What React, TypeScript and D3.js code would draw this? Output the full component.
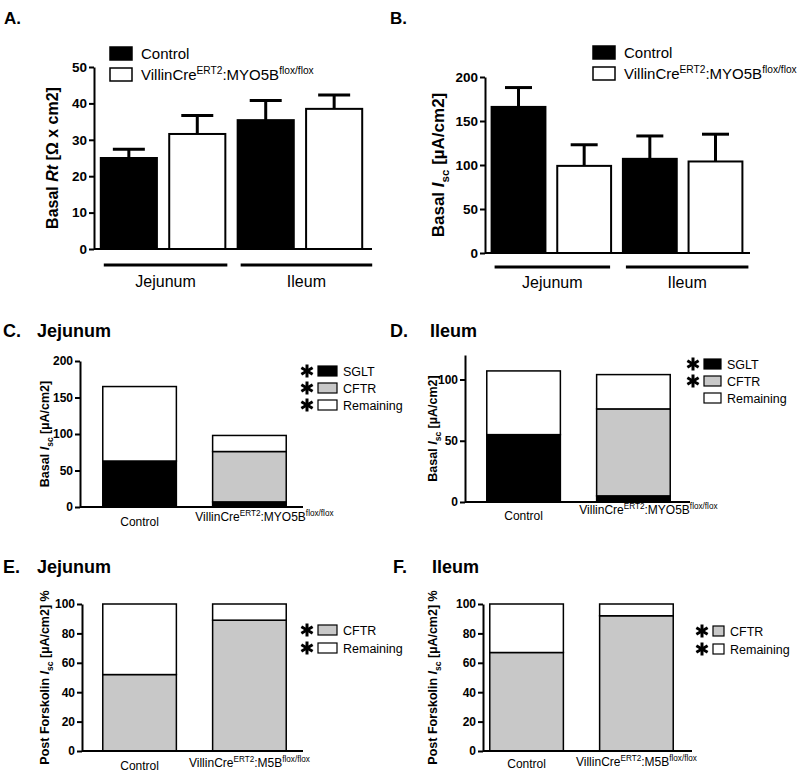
import { useEffect, useRef } from "react";
import * as d3 from "d3";

const FONT = "'Liberation Sans', Arial, Helvetica, sans-serif";

// A + B: basal values per region, mean and upper SEM
const regions = ["Jejunum", "Ileum"];
const genotypes = ["Control", "Villin"];
const rtControl = [25.0, 35.4];
const rtControlSem = [2.4, 5.4];
const rtVillin = [31.6, 38.5];
const rtVillinSem = [5.1, 3.8];
const iscControl = [166, 107];
const iscControlSem = [22, 26];
const iscVillin = [99, 104];
const iscVillinSem = [24, 31];

// C + D: basal Isc split into components (Control, Villin)
const basalKeys = ["SGLT", "CFTR", "Remaining"];
const jejSGLT = [63, 7];
const jejCFTR = [0, 69];
const jejRemaining = [102, 22];
const ileSGLT = [55, 5];
const ileCFTR = [0, 71];
const ileRemaining = [52, 28];

// E + F: post forskolin Isc, percent
const forskKeys = ["CFTR", "Remaining"];
const fJejCFTR = [52, 89];
const fJejRemaining = [48, 11];
const fIleCFTR = [67, 92];
const fIleRemaining = [33, 8];

const colors: Record<string, string> = {
	SGLT: "#000",
	CFTR: "#c8c8c8",
	Remaining: "#fff",
	Control: "#000",
	Villin: "#fff",
};

type Part = { t: string; sup?: boolean; sub?: boolean; it?: boolean };

const villinMyo: Part[] = [{ t: "VillinCre" }, { t: "ERT2", sup: true }, { t: ":MYO5B" }, { t: "flox/flox", sup: true }];
const villinM5b: Part[] = [{ t: "VillinCre" }, { t: "ERT2", sup: true }, { t: ":M5B" }, { t: "flox/flox", sup: true }];

function rich(text: any, parts: Part[], size: number) {
	let shift = 0;
	parts.forEach(p => {
		const target = p.sup ? -0.4 * size : p.sub ? 0.3 * size : 0;
		const ts = text.append("tspan").text(p.t).attr("dy", target - shift);
		if (p.sup || p.sub) ts.attr("font-size", size * 0.68);
		if (p.it) ts.attr("font-style", "italic");
		shift = target;
	});
}

function star(g: any, cx: number, cy: number) {
	[90, 30, -30].forEach(a => {
		const r = (a * Math.PI) / 180;
		const dx = Math.cos(r) * 6.5;
		const dy = Math.sin(r) * 6.5;
		g.append("line")
			.attr("x1", cx - dx).attr("y1", cy - dy)
			.attr("x2", cx + dx).attr("y2", cy + dy)
			.attr("stroke", "#000")
			.attr("stroke-width", 3);
	});
}

function yAxis(svg: any, y: any, x: number, ticks: number[], size: number) {
	const ax = svg.append("g")
		.attr("transform", `translate(${x},0)`)
		.call(d3.axisLeft(y).tickValues(ticks).tickSize(5).tickSizeOuter(0).tickPadding(2));
	ax.select(".domain").attr("stroke-width", 2);
	ax.selectAll(".tick line").attr("stroke-width", 2);
	ax.selectAll(".tick text")
		.attr("font-family", FONT)
		.attr("font-weight", "bold")
		.attr("font-size", size)
		.attr("fill", "#000");
}

function yLabel(svg: any, parts: Part[], x: number, cy: number, size: number) {
	const t = svg.append("text")
		.attr("transform", `translate(${x},${cy}) rotate(-90)`)
		.attr("text-anchor", "middle")
		.attr("font-family", FONT)
		.attr("font-weight", "bold")
		.attr("font-size", size);
	rich(t, parts, size);
}

function panelTitle(svg: any, letter: string, title: string, x: number, y: number, tx: number, size: number) {
	svg.append("text")
		.attr("x", x).attr("y", y)
		.attr("font-family", FONT).attr("font-weight", "bold").attr("font-size", size)
		.text(letter);
	if (title) {
		svg.append("text")
			.attr("x", tx).attr("y", y)
			.attr("font-family", FONT).attr("font-weight", "bold").attr("font-size", size)
			.text(title);
	}
}

type GroupedCfg = {
	control: number[]; controlSem: number[]; villin: number[]; villinSem: number[];
	yMax: number; ticks: number[]; yBottom: number; yTop: number;
	axisX: number; axisEnd: number; band: [number, number];
	label: Part[]; labelX: number; labelSize: number;
	lineY: number; textY: number; lineEnd: number[];
	legendX: number; legendY: number; capW: number;
};

function drawGrouped(svg: any, c: GroupedCfg) {
	const y = d3.scaleLinear().domain([0, c.yMax]).range([c.yBottom, c.yTop]);
	const bars = regions.flatMap((r, i) => [
		{ region: r, geno: "Control", v: c.control[i], sem: c.controlSem[i] },
		{ region: r, geno: "Villin", v: c.villin[i], sem: c.villinSem[i] },
	]);
	const x = d3.scaleBand<number>()
		.domain(d3.range(bars.length))
		.range(c.band)
		.paddingInner(0.18)
		.paddingOuter(0.07);

	// error bars (upper only)
	bars.forEach((d, i) => {
		const cx = x(i)! + x.bandwidth() / 2;
		svg.append("line")
			.attr("x1", cx).attr("x2", cx)
			.attr("y1", y(d.v)).attr("y2", y(d.v + d.sem))
			.attr("stroke", "#000").attr("stroke-width", 3);
		svg.append("line")
			.attr("x1", cx - c.capW / 2).attr("x2", cx + c.capW / 2)
			.attr("y1", y(d.v + d.sem)).attr("y2", y(d.v + d.sem))
			.attr("stroke", "#000").attr("stroke-width", 3);
	});

	svg.selectAll(null)
		.data(bars)
		.enter()
		.append("rect")
		.attr("x", (_: any, i: number) => x(i)!)
		.attr("width", x.bandwidth())
		.attr("y", (d: any) => y(d.v))
		.attr("height", (d: any) => y(0) - y(d.v))
		.attr("fill", (d: any) => colors[d.geno])
		.attr("stroke", "#000")
		.attr("stroke-width", 2);

	yAxis(svg, y, c.axisX, c.ticks, 13.5);
	svg.append("line")
		.attr("x1", c.axisX).attr("x2", c.axisEnd)
		.attr("y1", y(0)).attr("y2", y(0))
		.attr("stroke", "#000").attr("stroke-width", 2);

	yLabel(svg, c.label, c.labelX, (c.yTop + c.yBottom) / 2, c.labelSize);

	// region brackets
	regions.forEach((r, i) => {
		const x1 = x(i * 2)! + 3;
		const x2 = x(i * 2 + 1)! + x.bandwidth() + c.lineEnd[i];
		svg.append("line")
			.attr("x1", x1).attr("x2", x2)
			.attr("y1", c.lineY).attr("y2", c.lineY)
			.attr("stroke", "#000").attr("stroke-width", 3);
		svg.append("text")
			.attr("x", (x1 + x2) / 2).attr("y", c.textY)
			.attr("text-anchor", "middle")
			.attr("font-family", FONT).attr("font-size", 16)
			.text(r);
	});

	// legend
	genotypes.forEach((gname, i) => {
		const ly = c.legendY + i * 21;
		svg.append("rect")
			.attr("x", c.legendX).attr("y", ly)
			.attr("width", 22).attr("height", 13)
			.attr("fill", colors[gname]).attr("stroke", "#000").attr("stroke-width", 1.5);
		const t = svg.append("text")
			.attr("x", c.legendX + 31).attr("y", ly + 12)
			.attr("font-family", FONT).attr("font-size", 15);
		rich(t, gname === "Control" ? [{ t: "Control" }] : villinMyo, 15);
	});
}

type StackCfg = {
	keys: string[]; series: Record<string, number[]>; starred: string[];
	yMax: number; ticks: number[]; yBottom: number; yTop: number;
	axisX: number; axisEnd: number; band: [number, number];
	label: Part[]; labelX: number; catLabel: Part[]; catY: number[]; catDx: number[];
	legendX: number; legendY: number; legendStep: number; rectW: number;
};

function drawStacked(svg: any, c: StackCfg) {
	const y = d3.scaleLinear().domain([0, c.yMax]).range([c.yBottom, c.yTop]);
	const rows = genotypes.map((g, i) => {
		const o: any = { geno: g };
		c.keys.forEach(k => (o[k] = c.series[k][i]));
		return o;
	});
	const stacked = d3.stack().keys(c.keys)(rows);
	const x = d3.scaleBand<string>()
		.domain(genotypes)
		.range(c.band)
		.paddingInner(0.33)
		.paddingOuter(0.18);

	stacked.forEach(layer => {
		svg.selectAll(null)
			.data(layer)
			.enter()
			.append("rect")
			.attr("x", (d: any) => x(d.data.geno)!)
			.attr("width", x.bandwidth())
			.attr("y", (d: any) => y(d[1]))
			.attr("height", (d: any) => y(d[0]) - y(d[1]))
			.attr("fill", colors[layer.key])
			.attr("stroke", "#000")
			.attr("stroke-width", 1.5);
	});

	yAxis(svg, y, c.axisX, c.ticks, 12);
	svg.append("line")
		.attr("x1", c.axisX).attr("x2", c.axisEnd)
		.attr("y1", y(0)).attr("y2", y(0))
		.attr("stroke", "#000").attr("stroke-width", 2);

	yLabel(svg, c.label, c.labelX, (c.yTop + c.yBottom) / 2, 12.5);

	genotypes.forEach((g, i) => {
		const t = svg.append("text")
			.attr("x", x(g)! + x.bandwidth() / 2 + c.catDx[i]).attr("y", c.catY[i])
			.attr("text-anchor", "middle")
			.attr("font-family", FONT).attr("font-size", 12);
		rich(t, g === "Control" ? [{ t: "Control" }] : c.catLabel, 12);
	});

	// legend, listed top to bottom
	c.keys.forEach((k, i) => {
		const cy = c.legendY + i * c.legendStep;
		if (c.starred.includes(k)) star(svg, c.legendX - 11, cy);
		svg.append("rect")
			.attr("x", c.legendX).attr("y", cy - 5)
			.attr("width", c.rectW).attr("height", 10)
			.attr("fill", colors[k]).attr("stroke", "#000").attr("stroke-width", 1.2);
		svg.append("text")
			.attr("x", c.legendX + c.rectW + 6).attr("y", cy + 4.5)
			.attr("font-family", FONT).attr("font-size", 12.5)
			.text(k);
	});
}

export default function App() {
	const ref = useRef<SVGSVGElement>(null);

	useEffect(() => {
		const svg = d3.select(ref.current);
		svg.selectAll("*").remove();

		const rtLabel: Part[] = [{ t: "Basal " }, { t: "Rt", it: true }, { t: " [Ω x cm2]" }];
		const iscLabel: Part[] = [{ t: "Basal " }, { t: "I", it: true }, { t: "sc", sub: true }, { t: " [µA/cm2]" }];
		const forskLabel: Part[] = [{ t: "Post Forskolin " }, { t: "I", it: true }, { t: "sc", sub: true }, { t: " [µA/cm2] %" }];

		// A
		panelTitle(svg, "A.", "", 4, 24, 0, 17);
		drawGrouped(svg, {
			control: rtControl, controlSem: rtControlSem, villin: rtVillin, villinSem: rtVillinSem,
			yMax: 50, ticks: [0, 10, 20, 30, 40, 50], yBottom: 249, yTop: 67,
			axisX: 94, axisEnd: 372, band: [96, 367],
			label: rtLabel, labelX: 58, labelSize: 16,
			lineY: 265, textY: 287, lineEnd: [2, 10],
			legendX: 110, legendY: 47, capW: 32,
		});

		// B
		panelTitle(svg, "B.", "", 390, 24, 0, 17);
		drawGrouped(svg, {
			control: iscControl, controlSem: iscControlSem, villin: iscVillin, villinSem: iscVillinSem,
			yMax: 200, ticks: [0, 50, 100, 150, 200], yBottom: 253, yTop: 77,
			axisX: 485, axisEnd: 750, band: [487, 747],
			label: iscLabel, labelX: 444, labelSize: 17,
			lineY: 267, textY: 288, lineEnd: [-1, 6],
			legendX: 593, legendY: 46, capW: 27,
		});

		// C
		panelTitle(svg, "C.", "Jejunum", 3, 337, 37, 18);
		drawStacked(svg, {
			keys: basalKeys, series: { SGLT: jejSGLT, CFTR: jejCFTR, Remaining: jejRemaining },
			starred: ["SGLT", "CFTR", "Remaining"],
			yMax: 200, ticks: [0, 50, 100, 150, 200], yBottom: 507, yTop: 361,
			axisX: 80, axisEnd: 303, band: [83, 306],
			label: iscLabel, labelX: 49, catLabel: villinMyo, catY: [526, 521], catDx: [0, 15],
			legendX: 318, legendY: 371, legendStep: 17, rectW: 19,
		});

		// D
		panelTitle(svg, "D.", "Ileum", 390, 337, 430, 18);
		drawStacked(svg, {
			keys: basalKeys, series: { SGLT: ileSGLT, CFTR: ileCFTR, Remaining: ileRemaining },
			starred: ["SGLT", "CFTR"],
			yMax: 120, ticks: [0, 50, 100], yBottom: 502, yTop: 355,
			axisX: 465, axisEnd: 690, band: [467, 690],
			label: iscLabel, labelX: 437, catLabel: villinMyo, catY: [520, 514], catDx: [0, 15],
			legendX: 704, legendY: 364, legendStep: 17, rectW: 17,
		});

		// E
		panelTitle(svg, "E.", "Jejunum", 3, 573, 37, 18);
		drawStacked(svg, {
			keys: forskKeys, series: { CFTR: fJejCFTR, Remaining: fJejRemaining },
			starred: ["CFTR", "Remaining"],
			yMax: 100, ticks: [0, 20, 40, 60, 80, 100], yBottom: 751, yTop: 604,
			axisX: 82, axisEnd: 303, band: [83, 306],
			label: forskLabel, labelX: 49, catLabel: villinM5b, catY: [770, 767], catDx: [0, 0],
			legendX: 318, legendY: 630, legendStep: 18, rectW: 19,
		});

		// F
		panelTitle(svg, "F.", "Ileum", 393, 573, 432, 18);
		drawStacked(svg, {
			keys: forskKeys, series: { CFTR: fIleCFTR, Remaining: fIleRemaining },
			starred: ["CFTR", "Remaining"],
			yMax: 100, ticks: [0, 20, 40, 60, 80, 100], yBottom: 751, yTop: 604,
			axisX: 483, axisEnd: 692, band: [470, 693],
			label: forskLabel, labelX: 437, catLabel: villinM5b, catY: [768, 766], catDx: [0, 0],
			legendX: 713, legendY: 631, legendStep: 18, rectW: 11,
		});
	}, []);

	return (
		<svg
			ref={ref}
			width={800}
			height={774}
			style={{ position: "absolute", left: 0, top: 0, background: "#fff" }}
		/>
	);
}
